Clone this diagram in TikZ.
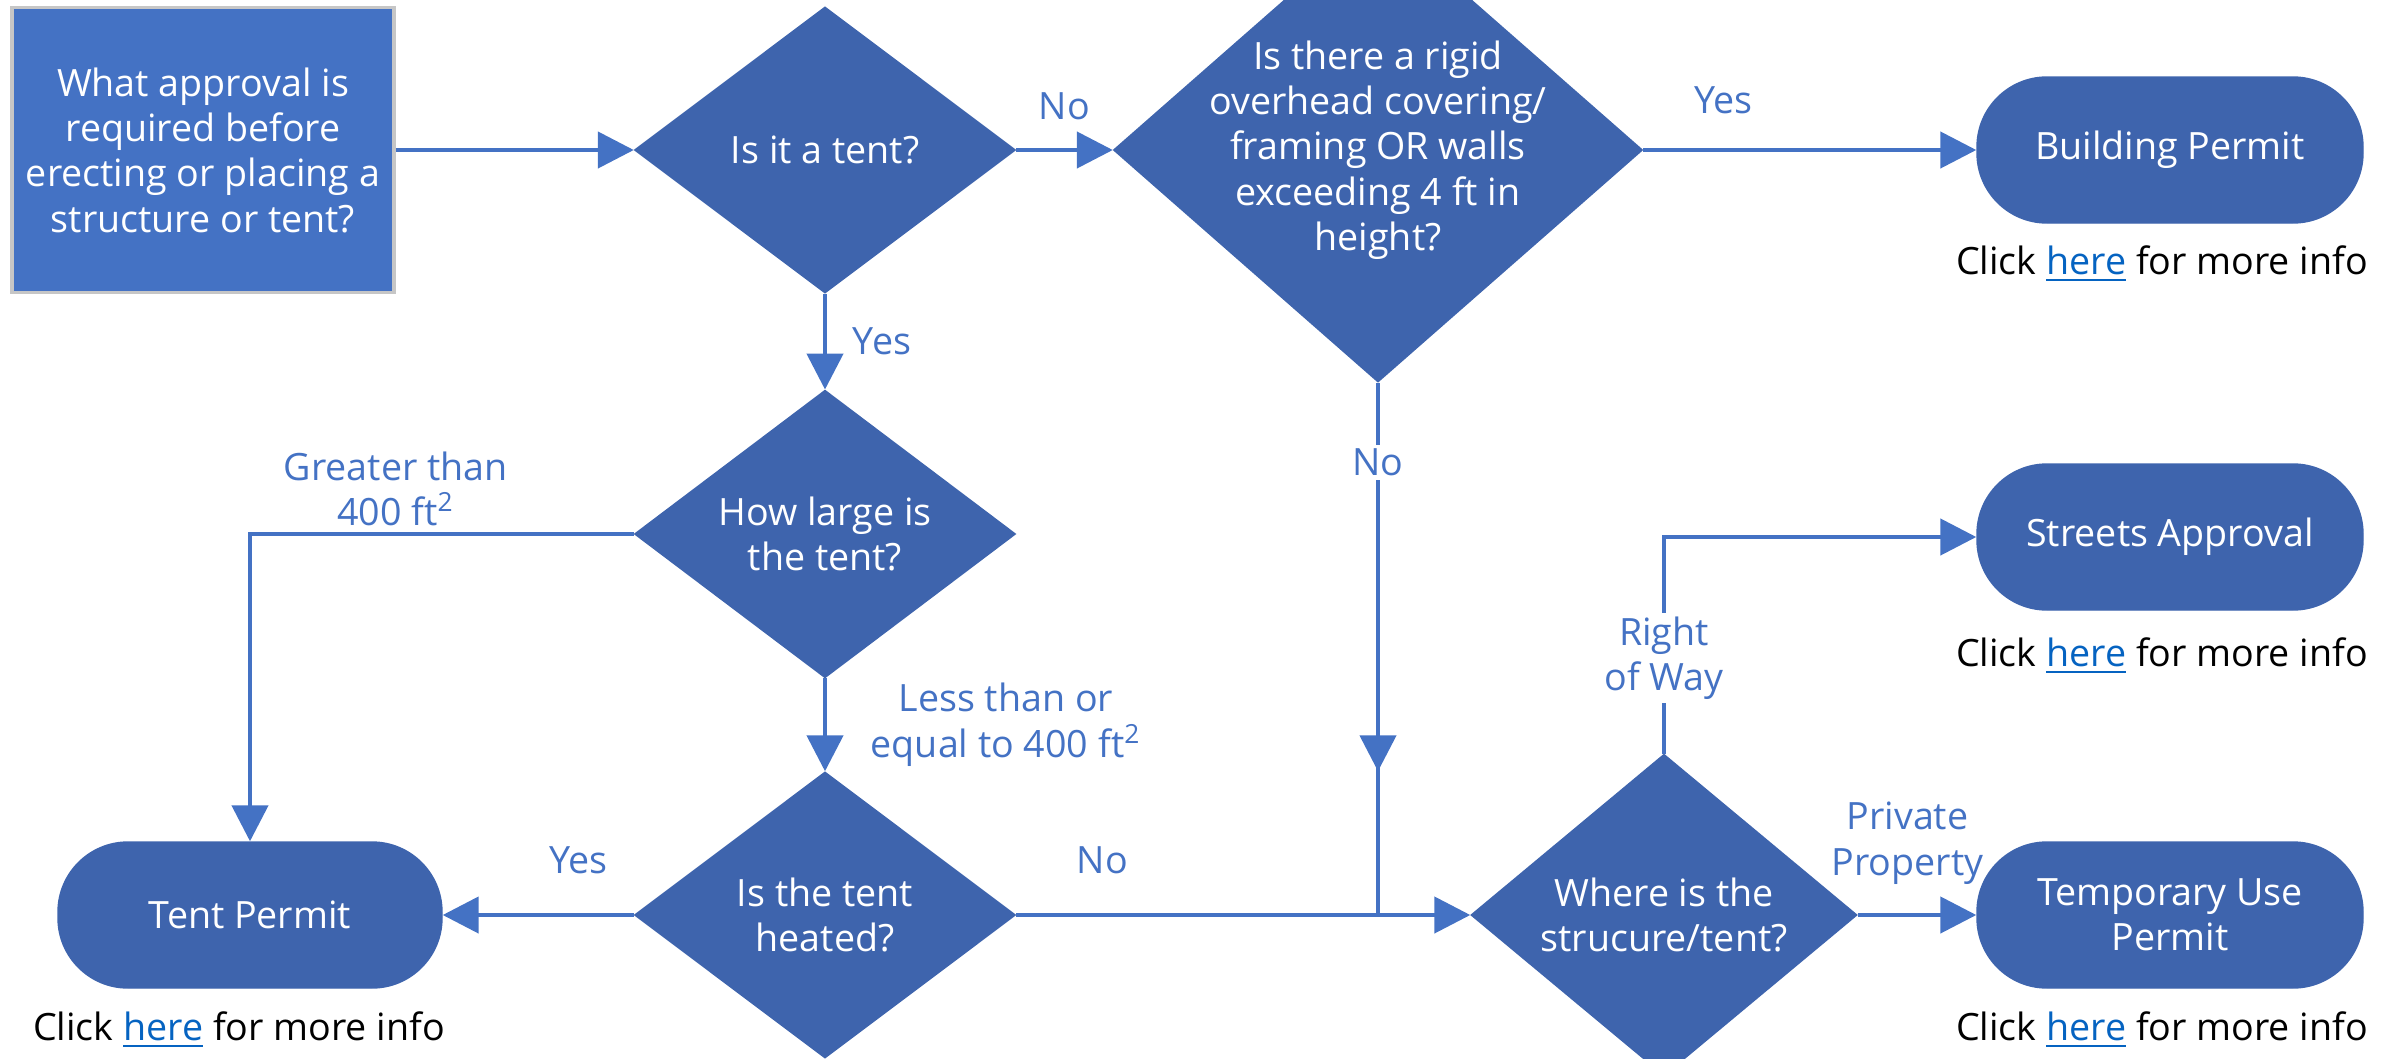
\documentclass[tikz,border=0pt]{standalone}
\usepackage{fontspec}
\setmainfont{Open Sans}
\usepackage{xcolor}
\usepackage{tikz}
\usetikzlibrary{shapes.geometric,arrows.meta,decorations.markings}
\definecolor{boxblue}{HTML}{4472C4}
\definecolor{darkblue}{HTML}{3E64AD}
\definecolor{linkblue}{HTML}{0563C1}
\tikzset{
  startbox/.style={draw=gray!45,line width=1pt,fill=boxblue,text=white,align=center,inner sep=0pt,minimum width=3.82cm,minimum height=2.85cm},
  decision/.style={diamond,draw=darkblue,fill=darkblue,text=white,align=center,inner sep=0pt,minimum width=3.81cm,minimum height=2.86cm},
  terminal/.style={rectangle,rounded corners=0.7cm,draw=darkblue,fill=darkblue,text=white,align=center,minimum width=3.86cm,minimum height=1.46cm},
  flow/.style={draw=boxblue,line width=1.3pt,-{Triangle[length=0.36cm,width=0.36cm]}},
  plainflow/.style={draw=boxblue,line width=1.3pt},
  midarrow/.style={postaction={decorate,decoration={markings,mark=at position #1 with {\arrow{Triangle[length=0.36cm,width=0.36cm]}}}}},
  lbl/.style={text=boxblue,align=center,inner sep=1pt},
  info/.style={inner sep=0pt}
}
\newcommand{\clickinfo}{Click \textcolor{linkblue}{\underline{here}} for more info}

\begin{document}
\begin{tikzpicture}[every node/.style={font=\fontsize{10.7}{12.9}\selectfont}]
  \path[use as bounding box,clip] (0,0) rectangle (23.92,-10.59);
  % shapes
  \node[startbox] (start) at (2.03,-1.50) {What approval is\\required before\\erecting or placing a\\structure or tent?};
  \node[decision] (tent) at (8.25,-1.50) {Is it a tent?};
  \node[decision,inner sep=-0.35cm,minimum width=5.29cm,minimum height=4.64cm] (rigid) at (13.78,-1.50) {Is there a rigid\\overhead covering/\\framing OR walls\\exceeding 4 ft in\\height?};
  \node[terminal] (building) at (21.70,-1.50) {Building Permit};
  \node[decision] (large) at (8.25,-5.34) {How large is\\the tent?};
  \node[decision] (heated) at (8.25,-9.15) {Is the tent\\heated?};
  \node[terminal,minimum width=3.84cm] (tentpermit) at (2.50,-9.15) {Tent Permit};
  \node[decision,minimum width=3.86cm] (where) at (16.64,-9.15) {Where is the\\strucure/tent?};
  \node[terminal] (streets) at (21.70,-5.37) {Streets Approval};
  \node[terminal] (temporary) at (21.70,-9.15) {Temporary Use\\Permit};
  \coordinate (join) at (13.78,-9.15);
  % info lines
  \node[info] (buildinginfo) at (21.62,-2.64) {\clickinfo};
  \node[info] (streetsinfo) at (21.62,-6.56) {\clickinfo};
  \node[info] (temporaryinfo) at (21.62,-10.30) {\clickinfo};
  \node[info] (tentinfo) at (2.39,-10.30) {\clickinfo};
  % connectors
  \draw[flow] (start) -- (tent);
  \draw[flow] (tent) -- node[lbl,above=0.24cm] {No} (rigid);
  \draw[flow] (rigid) -- node[lbl,pos=0.24,above=0.3cm] {Yes} (building);
  \draw[flow] (tent) -- node[lbl,right=0.22cm] {Yes} (large);
  \draw[flow] (large.west) -| node[lbl,pos=0.31,above=0.02cm] {Greater than\\400 ft\textsuperscript{2}} (tentpermit.north);
  \draw[flow] (large) -- node[lbl,right=0.4cm] {Less than or\\equal to 400 ft\textsuperscript{2}} (heated);
  \draw[flow] (heated) -- node[lbl,pos=0.29,above=0.35cm] {Yes} (tentpermit);
  \draw[flow] (heated) -- node[lbl,pos=0.19,above=0.35cm] {No} (where);
  \draw[plainflow,midarrow=0.73] (rigid.south) -- node[lbl,pos=0.15,fill=white] {No} (join);
  \draw[flow] (where.north) |- node[lbl,pos=0.22,fill=white] {Right\\of Way} (streets.west);
  \draw[flow] (where) -- node[lbl,pos=0.42,above=0.25cm] {Private\\Property} (temporary);
\end{tikzpicture}
\end{document}
